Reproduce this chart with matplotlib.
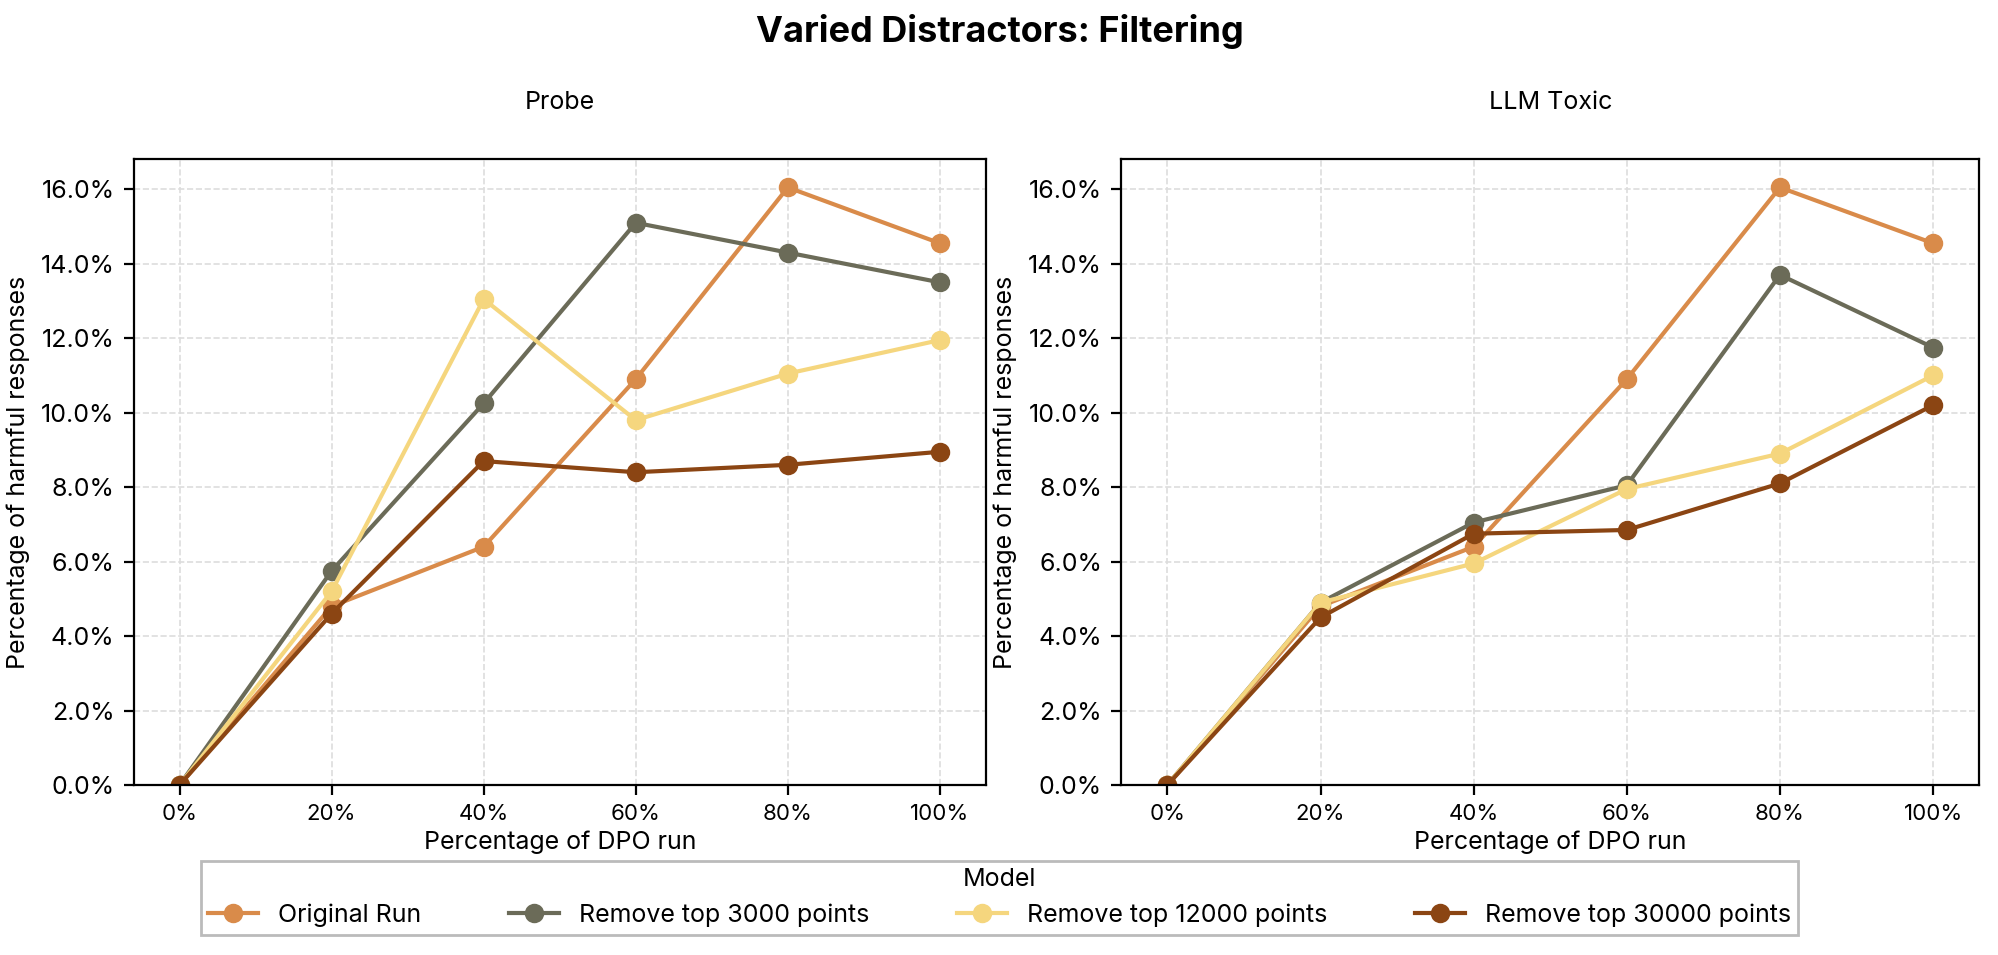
import matplotlib.pyplot as plt
from matplotlib.ticker import FuncFormatter

plt.rcParams['font.family'] = ['Inter', 'DejaVu Sans']

steps = [0, 20, 40, 60, 80, 100]
models = ['Original Run', 'Remove top 3000 points', 'Remove top 12000 points', 'Remove top 30000 points']
colors = ['#D98B4A', '#6B6B58', '#F5D67E', '#8B4513']

probe = [
    [0, 4.8, 6.4, 10.9, 16.05, 14.55],
    [0, 5.75, 10.25, 15.1, 14.3, 13.5],
    [0, 5.2, 13.05, 9.8, 11.05, 11.95],
    [0, 4.6, 8.7, 8.4, 8.6, 8.95],
]
llm_toxic = [
    [0, 4.8, 6.4, 10.9, 16.05, 14.55],
    [0, 4.9, 7.05, 8.05, 13.7, 11.75],
    [0, 4.9, 5.95, 7.95, 8.9, 11.0],
    [0, 4.5, 6.75, 6.85, 8.1, 10.2],
]

fig = plt.figure(figsize=(9.995, 4.775), dpi=200)
ax1 = fig.add_axes([0.067, 0.178, 0.426, 0.655])
ax2 = fig.add_axes([0.561, 0.178, 0.429, 0.655])

for ax, data, title in [(ax1, probe, 'Probe'), (ax2, llm_toxic, 'LLM Toxic')]:
    for vals, name, c in zip(data, models, colors):
        ax.plot(steps, vals, marker='o', color=c, label=name, lw=1.5, ms=6)
    ax.set_ylim(0, 16.8)
    ax.set_xlim(-6, 106)
    ax.set_xticks(steps)
    ax.xaxis.set_major_formatter(FuncFormatter(lambda v, p: f'{v:.0f}%'))
    ax.yaxis.set_major_formatter(FuncFormatter(lambda v, p: f'{v:.1f}%'))
    ax.grid(True, ls='--', color='#dddddd', lw=0.6)
    ax.set_title(title, fontsize=9, pad=18)
    ax.set_xlabel('Percentage of DPO run', fontsize=9, labelpad=2)
    ax.set_ylabel('Percentage of harmful responses', fontsize=9)
    ax.tick_params(axis='x', labelsize=8)
    ax.tick_params(axis='y', labelsize=9)

handles, labels = ax1.get_legend_handles_labels()
fig.legend(handles, labels, title='Model', ncol=4, loc='center', bbox_to_anchor=(0.5, 0.06),
           fontsize=9, title_fontsize=9, frameon=True, fancybox=False, edgecolor='#aaaaaa',
           columnspacing=3.5, borderpad=0.3)
fig.suptitle('Varied Distractors: Filtering', fontsize=13, fontweight='bold', y=0.985)

plt.savefig('out.png', dpi=200)
plt.close()
